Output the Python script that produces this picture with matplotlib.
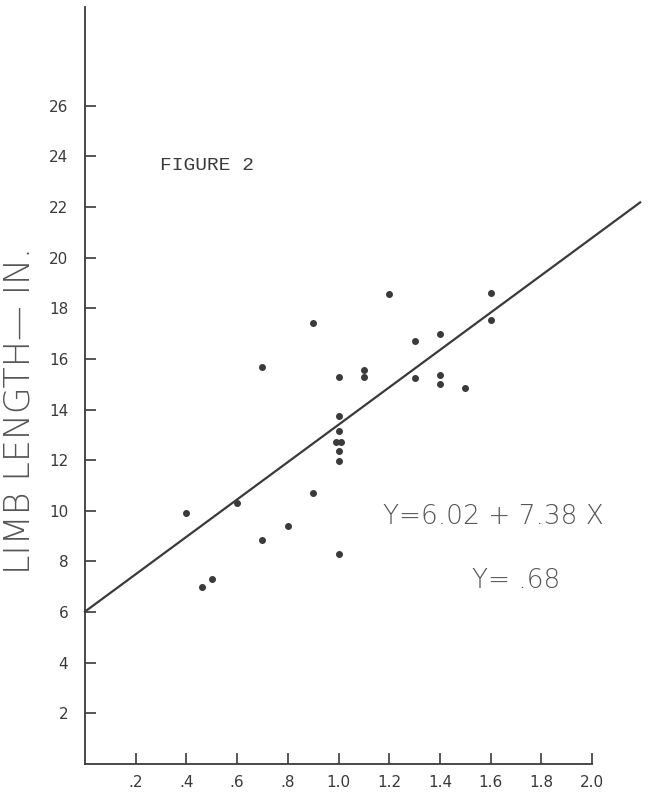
import matplotlib
matplotlib.use("Agg")
import numpy as np
import matplotlib.pyplot as plt

# data
limb_x = [0.40, 0.46, 0.50, 0.60, 0.70, 0.70, 0.80, 0.90, 0.90,
          1.00, 1.00, 1.00, 0.99, 1.01, 1.00, 1.00, 1.00,
          1.10, 1.10, 1.20, 1.30, 1.30, 1.40, 1.40, 1.40, 1.50, 1.60, 1.60]
limb_y = [9.9, 7.0, 7.3, 10.3, 15.7, 8.85, 9.4, 17.4, 10.7,
          15.3, 13.75, 13.15, 12.7, 12.7, 12.35, 11.95, 8.3,
          15.55, 15.3, 18.55, 16.7, 15.25, 17.0, 15.35, 15.0, 14.85, 18.6, 17.55]

intercept = 6.02
slope = 7.38
r_value = ".68"

x_ticks = [0.2, 0.4, 0.6, 0.8, 1.0, 1.2, 1.4, 1.6, 1.8, 2.0]
x_labels = [".2", ".4", ".6", ".8", "1.0", "1.2", "1.4", "1.6", "1.8", "2.0"]
y_ticks = [2, 4, 6, 8, 10, 12, 14, 16, 18, 20, 22, 24, 26]
y_labels = [str(v) for v in y_ticks]

ink = "#3a3a3a"
pencil = "#555555"

fig = plt.figure(figsize=(6.57, 7.96), dpi=100)
ax = fig.add_axes([85 / 657, 32 / 796, 507 / 657, 757 / 796])

ax.plot(limb_x, limb_y, "o", color=ink, markersize=4, zorder=3)

# regression line, runs past the end of the x axis
line_x = np.array([0.0, 2.19])
ax.plot(line_x, intercept + slope * line_x, color=ink, linewidth=1.6, clip_on=False)

ax.set_xlim(0, 2.0)
ax.set_ylim(0, 29.9)
for s in ["top", "right"]:
    ax.spines[s].set_visible(False)
for s in ["left", "bottom"]:
    ax.spines[s].set_color(ink)
    ax.spines[s].set_linewidth(1.3)

ax.set_xticks(x_ticks)
ax.set_xticklabels(x_labels)
ax.set_yticks(y_ticks)
ax.set_yticklabels(y_labels)
ax.tick_params(direction="in", length=8, width=1.2, color=ink, labelcolor=ink, labelsize=11)
ax.tick_params(axis="y", pad=12)
ax.tick_params(axis="x", pad=8)

fig.text(20 / 657, 1 - 410 / 796, "LIMB LENGTH\u2014 IN.", rotation=90, ha="center", va="center",
         fontsize=25, color=pencil, fontweight="light")

fig.text(160 / 657, 1 - 165 / 796, "FIGURE 2", family="Liberation Mono", fontsize=14,
         color=ink, ha="left", va="center")

fig.text(383 / 657, 1 - 516 / 796, "Y=6.02 + 7.38 X", fontsize=19, color=pencil,
         ha="left", va="center", fontweight="light")
fig.text(472 / 657, 1 - 580 / 796, "\u03a5= " + r_value, fontsize=19, color=pencil,
         ha="left", va="center", fontweight="light")

fig.savefig("out.png", dpi=100, facecolor="white")
